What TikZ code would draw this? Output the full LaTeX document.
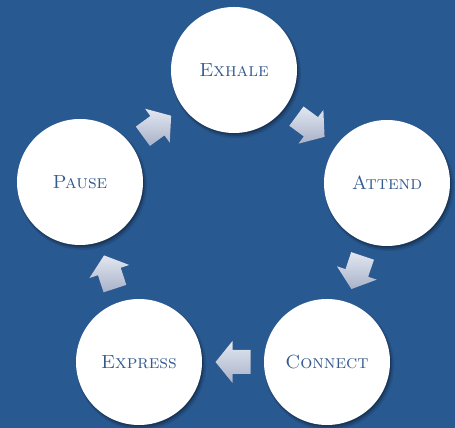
\documentclass[tikz,border=0pt]{standalone}
\usepackage{fontspec}
\usetikzlibrary{calc,shadows}
\definecolor{bgblue}{RGB}{41,89,145}
\definecolor{txtblue}{RGB}{52,90,142}
\definecolor{arrtop}{RGB}{226,231,241}
\definecolor{arrbot}{RGB}{168,178,200}
\newcommand{\flowarrow}[2]{%
  \coordinate (m) at ($(#1.center)!0.5!(#2.center)$);
  \coordinate (tp) at ($(m)!17.5pt!(#2.center)$);
  \coordinate (hb) at ($(m)!0.5pt!(#2.center)$);
  \coordinate (te) at ($(m)!-17.5pt!(#2.center)$);
  \coordinate (ha) at ($(hb)!21pt!90:(#2.center)$);
  \coordinate (hc) at ($(hb)!21pt!-90:(#2.center)$);
  \coordinate (ba) at ($(hb)!12pt!90:(#2.center)$);
  \coordinate (bc) at ($(hb)!12pt!-90:(#2.center)$);
  \coordinate (ta) at ($(te)!12pt!90:(m)$);
  \coordinate (tc) at ($(te)!12pt!-90:(m)$);
  \fill[black,opacity=0.2,shift={(1.5pt,-2pt)}]
    (tp) -- (ha) -- (ba) -- (ta) -- (tc) -- (bc) -- (hc) -- cycle;
  \shade[top color=arrtop,bottom color=arrbot]
    (tp) -- (ha) -- (ba) -- (ta) -- (tc) -- (bc) -- (hc) -- cycle;
}
\begin{document}
\begin{tikzpicture}[x=1pt,y=1pt,
  circ/.style={circle,fill=white,minimum size=126pt,inner sep=0pt,
    text=txtblue,font=\fontsize{19}{22}\selectfont\scshape,
    drop shadow={shadow xshift=2pt,shadow yshift=-3pt,opacity=0.10,shadow scale=1.03,fill=black},
    drop shadow={shadow xshift=1.5pt,shadow yshift=-2.5pt,opacity=0.15,shadow scale=1.01,fill=black},
    drop shadow={shadow xshift=1pt,shadow yshift=-1.5pt,opacity=0.2,shadow scale=1.0,fill=black}}]
\fill[bgblue] (0,0) rectangle (455,428);
\useasboundingbox (0,0) rectangle (455,428);
\node[circ] (ex) at (234,358) {Exhale};
\node[circ] (at) at (387,245) {Attend};
\node[circ] (co) at (327,66) {Connect};
\node[circ] (xp) at (139,66) {Express};
\node[circ] (pa) at (80,246) {Pause};
\flowarrow{ex}{at}
\flowarrow{at}{co}
\flowarrow{co}{xp}
\flowarrow{xp}{pa}
\flowarrow{pa}{ex}
\end{tikzpicture}
\end{document}
